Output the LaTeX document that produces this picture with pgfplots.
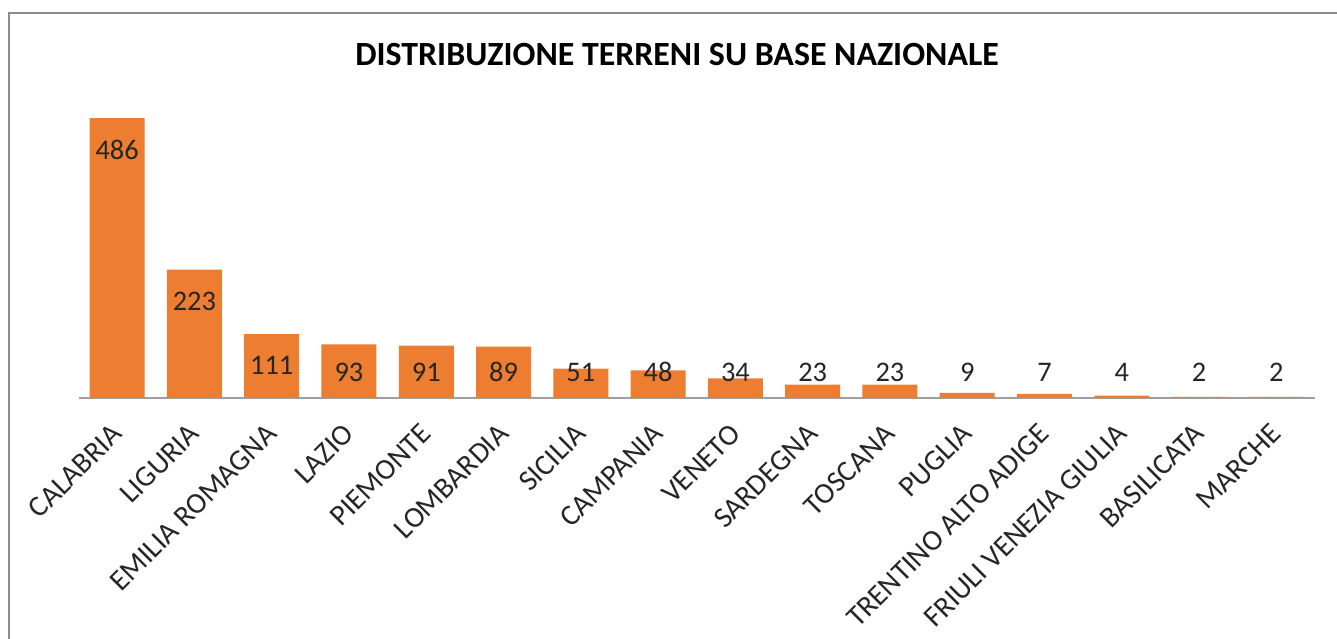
\documentclass[border=0pt]{standalone}
\usepackage{pgfplots}
\pgfplotsset{compat=1.18}
\usepackage{pgfplotstable}
\usepackage{fontspec}
\setmainfont{Carlito}
\definecolor{barc}{HTML}{ED7D31}
\definecolor{txt}{HTML}{262626}
\definecolor{frame}{HTML}{8C8C8C}
\pgfplotstableread{
x v ly
0 486 431
1 223 168
2 111 56
3 93 45
4 91 45
5 89 45
6 51 45
7 48 45
8 34 45
9 23 45
10 23 45
11 9 45
12 7 45
13 4 45
14 2 45
15 2 45
}\data
\begin{document}
\begin{tikzpicture}[x=1bp,y=1bp]
\useasboundingbox (0,0) rectangle (1337,639);
\fill[white] (0,0) rectangle (1337,639);
\draw[frame, line width=1.6bp] (9,-2) -- (9,626) -- (1339,626);
\node[font=\bfseries\fontsize{34}{36}\selectfont, text=black] at (677,584) {DISTRIBUZIONE TERRENI SU BASE NAZIONALE};
\begin{axis}[
  at={(78.5bp,241bp)}, anchor=south west,
  scale only axis, width=1236.5bp, height=288bp,
  xmin=-0.5, xmax=15.5, ymin=0, ymax=500,
  enlargelimits=false,
  axis x line=bottom, axis y line=none,
  x axis line style={-, draw=gray!75, line width=1.4bp},
  major tick length=0pt,
  ytick=\empty,
  xtick=data,
  xticklabels={CALABRIA,LIGURIA,EMILIA ROMAGNA,LAZIO,PIEMONTE,LOMBARDIA,SICILIA,CAMPANIA,VENETO,SARDEGNA,TOSCANA,PUGLIA,TRENTINO ALTO ADIGE,FRIULI VENEZIA GIULIA,BASILICATA,MARCHE},
  xticklabel style={font=\fontsize{29.5}{31}\selectfont, text=txt, inner sep=0pt, xshift=0bp, yshift=-31bp, rotate=45, anchor=east},
  /pgf/number format/assume math mode=true,
  clip=false,
]
\addplot[ybar, bar width=55bp, bar shift=0pt, fill=barc, draw=none] table[x=x,y=v] {\data};
\addplot[draw=none, mark=none, nodes near coords, point meta=explicit,
  every node near coord/.append style={font=\fontsize{28.5}{30}\selectfont, text=txt, inner sep=0pt, anchor=center}]
  table[x=x,y=ly,meta=v] {\data};
\end{axis}
\end{tikzpicture}
\end{document}
